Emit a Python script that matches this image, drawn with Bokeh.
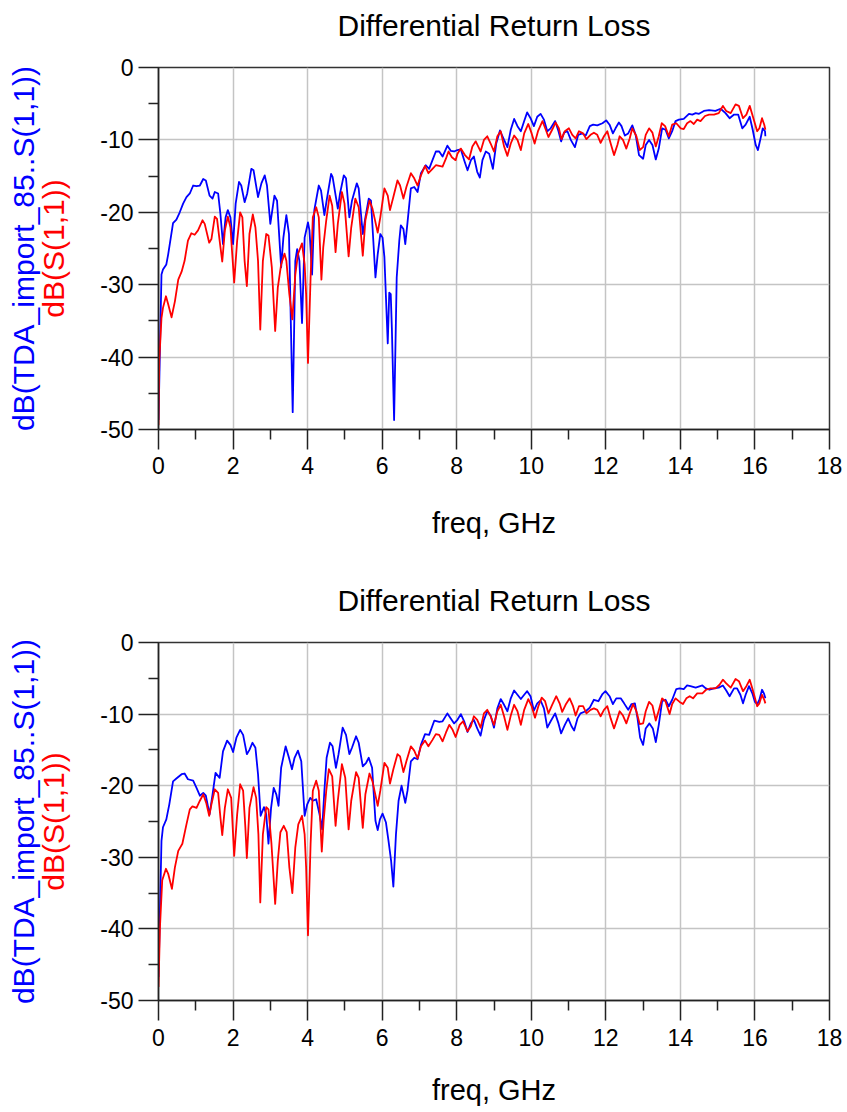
import numpy as np
from bokeh.plotting import figure
from bokeh.layouts import column
from bokeh.models import Range1d, FixedTicker, Title, LinearAxis
from bokeh.embed import file_html
from bokeh.resources import INLINE

FONT = "Liberation Sans"
TITLE = "Differential Return Loss"
XLABEL = "freq, GHz"
BLUE_LABEL = "dB(TDA_import_85..S(1,1))"
RED_LABEL = "dB(S(1,1))"

x_ticks = [0, 2, 4, 6, 8, 10, 12, 14, 16, 18]
x_minor = [1, 3, 5, 7, 9, 11, 13, 15, 17]
y_ticks = [-50, -40, -30, -20, -10, 0]
y_minor = [-45, -35, -25, -15, -5]
y_tick_labels = {v: str(v) for v in y_ticks}

# ---- top chart ----
top_blue_f = [0.00, 0.08, 0.12, 0.21, 0.26, 0.39, 0.48, 0.57, 0.66, 0.75, 0.84, 0.93, 1.02, 1.11, 1.20, 1.27,
              1.37, 1.45, 1.51, 1.60, 1.66, 1.73, 1.80, 1.86, 1.93, 2.00, 2.07, 2.16, 2.22, 2.31, 2.38, 2.49,
              2.55, 2.67, 2.76, 2.85, 2.91, 3.00, 3.11, 3.18, 3.29, 3.35, 3.43, 3.50, 3.60, 3.67, 3.72, 3.78,
              3.85, 3.92, 4.01, 4.05, 4.12, 4.18, 4.30, 4.36, 4.45, 4.51, 4.63, 4.67, 4.81, 4.87, 4.97, 5.03,
              5.12, 5.19, 5.32, 5.37, 5.48, 5.55, 5.64, 5.70, 5.82, 5.88, 5.95, 6.01, 6.06, 6.15, 6.19, 6.23,
              6.26, 6.32, 6.39, 6.46, 6.50, 6.57, 6.62, 6.68, 6.77, 6.86, 6.95, 7.04, 7.17, 7.26, 7.35, 7.44,
              7.53, 7.62, 7.75, 7.84, 7.93,
              8.02, 8.11, 8.20, 8.29, 8.38, 8.46, 8.55, 8.62, 8.69, 8.78, 8.87, 8.97, 9.06, 9.16, 9.27, 9.36,
              9.45, 9.54, 9.63, 9.72, 9.81, 9.89, 9.98, 10.07, 10.16, 10.25, 10.34, 10.43, 10.52, 10.64, 10.73,
              10.80, 10.88, 10.97, 11.06, 11.17, 11.26, 11.37, 11.46, 11.57, 11.66, 11.77, 11.91, 12.01, 12.10,
              12.19, 12.26, 12.35, 12.42, 12.51, 12.60, 12.71, 12.80, 12.89, 13.00, 13.07, 13.16, 13.25, 13.34,
              13.42, 13.51, 13.60, 13.69, 13.78, 13.87, 13.96, 14.09, 14.23, 14.32, 14.41, 14.50, 14.63, 14.77,
              14.94, 15.08, 15.21, 15.32, 15.44, 15.55, 15.66, 15.75, 15.86, 15.94, 16.02, 16.08, 16.15, 16.21,
              16.27, 16.28]
top_blue_db = [-48.7, -28.6, -27.9, -27.2, -25.8, -21.5, -21.0, -20.0, -18.8, -17.9, -17.4, -16.3, -16.4, -16.3,
               -15.4, -15.6, -17.7, -18.1, -17.2, -17.4, -20.2, -24.4, -20.7, -19.7, -20.7, -24.4, -18.8, -15.8,
               -16.3, -18.6, -17.4, -14.0, -14.2, -17.9, -16.0, -14.9, -16.3, -21.6, -17.7, -18.4, -27.6, -23.5,
               -20.4, -23.0, -47.6, -26.7, -25.1, -26.7, -35.3, -23.5, -21.4, -22.5, -28.6, -19.7, -16.3, -17.0,
               -20.4, -18.4, -14.7, -15.1, -19.5, -17.4, -14.9, -15.3, -20.7, -18.4, -16.0, -16.7, -23.0, -20.7,
               -18.1, -18.4, -29.0, -25.8, -23.0, -23.5, -26.2, -38.1, -31.1, -31.3, -36.0, -48.7, -29.0, -23.9,
               -21.8, -22.3, -24.4, -21.4, -16.7, -16.5, -17.2, -14.6, -13.5, -14.0, -12.8, -11.6, -11.6, -12.3,
               -10.8, -11.5, -11.6,
               -11.4, -11.3, -12.8, -14.2, -12.8, -12.3, -14.4, -15.2, -12.8, -11.6, -11.9, -14.0, -10.5, -8.7,
               -10.0, -11.0, -8.6, -7.1, -8.1, -8.8, -7.4, -6.2, -7.0, -8.1, -6.8, -6.4, -7.2, -8.8, -8.4, -7.4,
               -8.8, -10.2, -9.0, -8.8, -10.0, -11.0, -9.3, -9.1, -9.4, -8.1, -7.9, -8.0, -7.7, -7.3, -7.9, -9.1,
               -8.4, -7.6, -8.1, -9.4, -9.1, -8.0, -9.3, -12.1, -12.6, -10.7, -10.0, -10.7, -12.7, -11.2, -8.4,
               -8.6, -9.8, -8.8, -7.4, -7.2, -7.1, -6.4, -6.5, -6.3, -6.4, -6.0, -5.9, -6.0, -5.7, -6.3, -7.0,
               -6.5, -6.5, -8.4, -7.9, -6.8, -8.6, -10.7, -11.4, -9.8, -8.4, -8.8, -9.5]

top_red_f = [0.00, 0.02, 0.08, 0.12, 0.20, 0.26, 0.35, 0.44, 0.53, 0.62, 0.70, 0.79, 0.88, 0.97, 1.06, 1.18,
             1.24, 1.36, 1.42, 1.51, 1.57, 1.64, 1.71, 1.78, 1.86, 1.93, 2.03, 2.11, 2.19, 2.25, 2.31, 2.37,
             2.44, 2.53, 2.60, 2.67, 2.73, 2.80, 2.89, 2.95, 3.04, 3.13, 3.20, 3.29, 3.38, 3.43, 3.51, 3.59,
             3.67, 3.74, 3.85, 3.92, 3.96, 4.01, 4.08, 4.14, 4.23, 4.30, 4.37, 4.42, 4.50, 4.59, 4.66, 4.75,
             4.81, 4.92, 4.99, 5.10, 5.17, 5.28, 5.37, 5.48, 5.55, 5.66, 5.74, 5.88, 5.95, 6.06, 6.15, 6.21,
             6.30, 6.41, 6.48, 6.57, 6.65, 6.77, 6.86, 6.95, 7.04, 7.15, 7.24, 7.35, 7.44, 7.53, 7.62, 7.71,
             7.78, 7.87, 7.97,
             8.02, 8.11, 8.22, 8.33, 8.42, 8.51, 8.64, 8.73, 8.82, 8.91, 9.00, 9.09, 9.18, 9.27, 9.36, 9.45,
             9.54, 9.63, 9.72, 9.81, 9.92, 10.01, 10.09, 10.18, 10.30, 10.39, 10.46, 10.56, 10.65, 10.74, 10.81,
             10.90, 11.01, 11.10, 11.19, 11.28, 11.39, 11.48, 11.59, 11.68, 11.77, 11.86, 11.95, 12.04, 12.13,
             12.22, 12.31, 12.37, 12.46, 12.55, 12.64, 12.71, 12.82, 12.91, 13.00, 13.07, 13.16, 13.25, 13.34,
             13.42, 13.50, 13.59, 13.69, 13.78, 13.89, 14.01, 14.09, 14.18, 14.27, 14.36, 14.45, 14.54, 14.66,
             14.77, 14.90, 15.03, 15.14, 15.23, 15.35, 15.48, 15.57, 15.68, 15.77, 15.86, 15.94, 16.06, 16.12,
             16.19, 16.25, 16.28]
top_red_db = [-49.4, -40.6, -34.6, -33.2, -31.6, -32.7, -34.5, -32.3, -29.3, -28.2, -26.7, -23.9, -22.9, -23.1,
              -22.5, -21.1, -21.6, -24.2, -23.7, -20.6, -20.9, -23.9, -26.8, -22.5, -20.6, -22.1, -29.7, -23.9,
              -20.0, -20.7, -26.7, -30.2, -23.0, -20.3, -22.1, -26.7, -36.2, -26.7, -23.0, -23.2, -27.6, -36.4,
              -30.4, -27.2, -25.7, -26.7, -31.3, -34.8, -28.6, -25.8, -24.3, -27.2, -31.3, -40.8, -29.0, -20.7,
              -19.3, -20.7, -29.3, -24.8, -21.1, -17.7, -19.1, -25.5, -21.6, -17.2, -18.8, -26.1, -22.1, -18.1,
              -19.3, -26.0, -21.1, -18.4, -19.5, -22.8, -20.7, -16.7, -17.7, -19.7, -17.9, -15.6, -16.3, -18.1,
              -16.5, -14.6, -15.3, -16.3, -14.9, -13.6, -14.6, -14.0, -13.5, -13.6, -13.7, -12.6, -11.6, -12.4,
              -12.8,
              -11.9, -11.2, -12.1, -12.7, -10.9, -10.2, -11.6, -10.0, -9.5, -10.5, -11.6, -9.5, -8.8, -10.9,
              -12.2, -10.5, -9.4, -10.0, -11.4, -9.1, -7.8, -9.1, -10.5, -8.8, -7.4, -8.6, -9.6, -8.6, -7.6,
              -8.4, -9.9, -8.8, -8.4, -9.3, -9.8, -8.8, -9.1, -9.9, -9.3, -9.0, -9.3, -10.4, -9.5, -8.8, -10.5,
              -12.1, -10.7, -9.5, -10.0, -11.2, -9.8, -8.4, -9.5, -11.4, -11.0, -9.3, -8.4, -9.0, -10.9, -9.5,
              -7.7, -8.1, -9.5, -7.9, -7.7, -8.4, -8.5, -7.7, -7.4, -7.8, -7.2, -7.4, -6.7, -6.5, -6.5, -6.3,
              -5.3, -6.0, -6.3, -5.1, -5.3, -7.0, -6.5, -5.3, -6.7, -8.8, -8.4, -7.0, -7.9, -8.6]

# ---- bottom chart ----
bot_blue_f = [0.00, 0.08, 0.12, 0.21, 0.29, 0.39, 0.48, 0.62, 0.70, 0.79, 0.93, 1.02, 1.11, 1.20, 1.27, 1.37,
              1.45, 1.53, 1.64, 1.73, 1.84, 1.93, 2.00, 2.09, 2.19, 2.27, 2.37, 2.44, 2.52, 2.60, 2.67, 2.74,
              2.83, 2.89, 2.95, 3.02, 3.09, 3.16, 3.22, 3.29, 3.41, 3.50, 3.58, 3.65, 3.74, 3.83, 3.92, 3.99,
              4.07, 4.14, 4.23, 4.32, 4.39, 4.45, 4.51, 4.60, 4.67, 4.76, 4.83, 4.94, 5.03, 5.12, 5.19, 5.30,
              5.37, 5.48, 5.57, 5.64, 5.73, 5.82, 5.88, 5.94, 6.01, 6.10, 6.17, 6.24, 6.30, 6.37, 6.44, 6.52,
              6.62, 6.68, 6.77, 6.86, 6.95, 7.04, 7.15, 7.26, 7.40, 7.53, 7.62, 7.75, 7.84, 7.93,
              8.02, 8.11, 8.20, 8.29, 8.38, 8.46, 8.55, 8.64, 8.73, 8.82, 8.91, 9.00, 9.09, 9.18, 9.27, 9.36,
              9.45, 9.54, 9.63, 9.72, 9.81, 9.89, 9.98, 10.07, 10.16, 10.25, 10.34, 10.43, 10.52, 10.64, 10.73,
              10.80, 10.90, 10.99, 11.08, 11.15, 11.24, 11.32, 11.46, 11.57, 11.68, 11.80, 11.91, 11.99, 12.10,
              12.19, 12.28, 12.40, 12.49, 12.60, 12.69, 12.78, 12.85, 12.92, 13.00, 13.07, 13.17, 13.26, 13.34,
              13.42, 13.51, 13.60, 13.69, 13.78, 13.89, 13.98, 14.09, 14.18, 14.27, 14.41, 14.59, 14.68, 14.78,
              14.90, 15.03, 15.14, 15.23, 15.32, 15.44, 15.52, 15.61, 15.68, 15.75, 15.84, 15.93, 16.00, 16.06,
              16.12, 16.19, 16.24, 16.28]
bot_blue_db = [-46.7, -27.7, -25.8, -24.7, -22.6, -19.4, -19.0, -18.4, -18.3, -19.1, -19.3, -20.3, -21.4, -21.0,
               -21.4, -24.0, -21.2, -18.2, -18.9, -15.2, -13.7, -14.3, -15.3, -13.3, -12.2, -12.9, -15.6, -15.0,
               -14.0, -14.7, -18.4, -24.2, -23.0, -24.0, -28.1, -23.1, -20.3, -21.2, -22.8, -17.5, -14.5, -16.1,
               -17.7, -16.1, -15.1, -16.6, -24.2, -22.6, -21.7, -22.1, -21.9, -24.0, -26.1, -20.7, -16.1, -14.0,
               -14.5, -17.5, -15.6, -11.9, -12.9, -15.6, -14.7, -13.1, -14.0, -17.3, -16.8, -16.1, -17.5, -24.9,
               -26.2, -24.7, -23.9, -25.1, -27.7, -30.5, -34.1, -26.8, -22.1, -20.0, -22.4, -20.7, -16.6, -16.1,
               -16.3, -14.3, -12.8, -12.9, -10.9, -11.1, -11.0, -9.9, -10.6, -11.3,
               -10.8, -10.0, -11.0, -12.5, -11.3, -10.8, -12.0, -13.0, -10.8, -9.6, -10.2, -11.9, -9.2, -7.9,
               -8.7, -9.6, -7.8, -6.7, -7.3, -7.9, -7.3, -6.8, -7.5, -9.5, -8.5, -8.1, -9.2, -11.9, -11.0, -9.9,
               -11.3, -12.7, -11.5, -10.6, -11.7, -12.3, -10.6, -9.9, -9.6, -9.1, -8.0, -8.2, -7.2, -6.8, -7.5,
               -8.6, -7.8, -7.8, -8.5, -9.4, -8.6, -8.5, -10.6, -13.3, -14.3, -12.0, -11.3, -12.0, -13.9, -11.5,
               -8.2, -8.0, -8.9, -8.0, -6.5, -6.4, -6.5, -6.0, -6.1, -6.3, -6.0, -6.4, -6.6, -6.4, -6.3, -6.0,
               -6.7, -7.5, -6.4, -6.4, -7.3, -8.5, -7.3, -6.1, -7.1, -8.3, -8.6, -8.0, -6.6, -7.1, -7.8]

bot_red_f = [0.00, 0.04, 0.10, 0.20, 0.26, 0.36, 0.44, 0.53, 0.64, 0.75, 0.84, 0.91, 1.02, 1.11, 1.20, 1.28,
             1.36, 1.42, 1.51, 1.60, 1.66, 1.71, 1.78, 1.86, 1.95, 2.03, 2.11, 2.19, 2.27, 2.33, 2.37, 2.44,
             2.55, 2.62, 2.68, 2.73, 2.80, 2.89, 2.95, 3.03, 3.13, 3.20, 3.27, 3.36, 3.44, 3.51, 3.59, 3.67,
             3.75, 3.85, 3.92, 3.96, 4.01, 4.08, 4.14, 4.23, 4.30, 4.38, 4.43, 4.50, 4.57, 4.66, 4.75, 4.81,
             4.92, 5.01, 5.10, 5.17, 5.30, 5.37, 5.48, 5.55, 5.66, 5.74, 5.88, 5.95, 6.06, 6.15, 6.21, 6.30,
             6.41, 6.48, 6.57, 6.65, 6.77, 6.86, 6.95, 7.04, 7.15, 7.24, 7.35, 7.44, 7.53, 7.62, 7.71, 7.80,
             7.89, 7.97,
             8.08, 8.17, 8.29, 8.38, 8.46, 8.55, 8.64, 8.73, 8.82, 8.91, 9.00, 9.09, 9.18, 9.27, 9.36, 9.45,
             9.54, 9.63, 9.72, 9.81, 9.92, 10.01, 10.10, 10.19, 10.28, 10.37, 10.46, 10.56, 10.67, 10.76, 10.83,
             10.92, 11.03, 11.12, 11.19, 11.28, 11.39, 11.48, 11.59, 11.68, 11.77, 11.86, 11.95, 12.04, 12.13,
             12.22, 12.31, 12.37, 12.46, 12.55, 12.64, 12.73, 12.82, 12.91, 13.00, 13.07, 13.16, 13.25, 13.34,
             13.42, 13.51, 13.60, 13.71, 13.78, 13.87, 13.98, 14.07, 14.16, 14.25, 14.34, 14.45, 14.59, 14.69,
             14.81, 14.94, 15.05, 15.14, 15.23, 15.35, 15.48, 15.57, 15.68, 15.77, 15.86, 15.94, 16.06, 16.12,
             16.19, 16.25, 16.28]
bot_red_db = [-48.1, -39.7, -33.2, -31.6, -32.3, -34.4, -31.4, -29.1, -28.1, -25.4, -23.3, -22.9, -23.1, -22.1,
              -21.2, -22.4, -24.2, -22.6, -20.5, -21.0, -24.4, -26.9, -23.1, -20.5, -21.7, -29.8, -24.0, -19.8,
              -20.7, -25.8, -30.1, -23.1, -20.2, -21.7, -26.8, -36.3, -26.8, -23.0, -23.3, -28.1, -36.5, -30.5,
              -26.5, -25.6, -26.5, -31.4, -35.0, -28.6, -25.4, -24.2, -26.8, -31.4, -40.9, -28.1, -20.7, -19.3,
              -20.7, -29.2, -24.9, -20.7, -17.7, -18.7, -25.6, -22.1, -17.0, -18.9, -26.1, -22.1, -18.1, -18.9,
              -25.9, -21.2, -18.3, -19.4, -22.8, -20.7, -16.8, -17.5, -19.7, -17.7, -15.6, -15.9, -18.1, -16.6,
              -14.5, -15.1, -16.2, -14.5, -13.7, -14.5, -13.6, -12.8, -12.9, -13.8, -12.6, -11.5, -12.2, -13.2,
              -11.5, -11.0, -12.4, -11.7, -10.3, -10.8, -11.9, -9.9, -9.4, -10.3, -11.5, -9.6, -8.7, -10.3,
              -12.2, -10.2, -8.7, -9.6, -11.5, -9.4, -7.9, -8.9, -10.5, -8.9, -7.7, -8.2, -9.9, -8.7, -7.5,
              -8.5, -9.7, -8.7, -7.8, -8.9, -10.2, -8.9, -8.9, -9.9, -9.4, -9.2, -9.4, -10.3, -9.4, -8.9,
              -10.6, -12.0, -10.6, -9.6, -10.2, -11.3, -9.9, -8.6, -9.6, -11.4, -11.3, -9.6, -8.3, -8.8, -10.9,
              -9.5, -7.8, -8.2, -10.0, -8.6, -7.8, -8.3, -8.6, -7.8, -7.5, -7.8, -7.1, -7.1, -6.6, -6.4, -6.4,
              -5.9, -5.2, -5.7, -6.3, -5.1, -5.4, -6.8, -6.1, -5.2, -6.6, -8.9, -8.5, -7.3, -8.0, -8.5]


def make_fig(height, border_top, border_bottom, blue_f, blue_db, red_f, red_db,
             tick_standoff, label_standoff):
    p = figure(width=847, height=height, x_range=Range1d(0, 18), y_range=Range1d(-50, 0),
               output_backend="svg", toolbar_location=None, title=None,
               min_border_left=158, min_border_right=18, min_border_top=border_top,
               min_border_bottom=border_bottom)

    p.background_fill_color = "white"
    p.border_fill_color = "white"
    p.outline_line_color = "#333333"
    p.outline_line_width = 1.5

    p.xaxis.ticker = FixedTicker(ticks=x_ticks, minor_ticks=x_minor)
    p.yaxis.ticker = FixedTicker(ticks=y_ticks, minor_ticks=y_minor)
    p.yaxis.major_label_overrides = y_tick_labels
    for ax in (p.xaxis[0], p.yaxis[0]):
        ax.axis_line_color = "#222222"
        ax.axis_line_width = 1.5
        ax.major_tick_line_color = "#222222"
        ax.major_tick_line_width = 1.5
        ax.minor_tick_line_color = "#222222"
        ax.minor_tick_line_width = 1.5
        ax.major_tick_in = 0
        ax.major_tick_out = 20
        ax.minor_tick_in = 0
        ax.minor_tick_out = 10
        ax.major_label_text_font = FONT
        ax.major_label_text_font_size = "23px"
        ax.major_label_text_color = "black"
    p.yaxis.major_label_standoff = 5
    p.xaxis.major_label_standoff = tick_standoff
    p.xaxis.axis_label = XLABEL
    p.xaxis.axis_label_text_font = FONT
    p.xaxis.axis_label_text_font_size = "29px"
    p.xaxis.axis_label_text_font_style = "normal"
    p.xaxis.axis_label_text_color = "black"
    p.xaxis.axis_label_standoff = label_standoff

    # red y label = the axis label, blue one = a title outside it
    p.yaxis.axis_label = RED_LABEL
    p.yaxis.axis_label_text_font = FONT
    p.yaxis.axis_label_text_font_size = "30px"
    p.yaxis.axis_label_text_font_style = "normal"
    p.yaxis.axis_label_text_color = "#ff0000"
    p.yaxis.axis_label_standoff = 27
    p.add_layout(Title(text=BLUE_LABEL, align="center", text_color="#0000ff", text_font=FONT,
                       text_font_size="30px", text_font_style="normal", standoff=-11), "left")

    # invisible spacer axis between the frame and the title
    spacer = LinearAxis(ticker=FixedTicker(ticks=[9]), major_label_overrides={9: ""},
                        axis_line_color=None, major_tick_line_color=None, minor_tick_line_color=None,
                        major_tick_out=26, major_tick_in=0, minor_tick_out=0, minor_tick_in=0,
                        major_label_standoff=0, major_label_text_font_size="1px",
                        major_label_text_color=None)
    p.add_layout(spacer, "above")
    p.add_layout(Title(text=TITLE, align="center", text_color="black", text_font=FONT,
                       text_font_size="30px", text_font_style="normal", standoff=0), "above")

    p.xgrid.ticker = FixedTicker(ticks=x_ticks)
    p.ygrid.ticker = FixedTicker(ticks=y_ticks)
    p.grid.grid_line_color = "#c4c4c4"
    p.grid.grid_line_width = 1.5

    p.line(blue_f, blue_db, line_color="#0000ff", line_width=1.8, line_join="round")
    p.line(red_f, red_db, line_color="#ff0000", line_width=1.8, line_join="round")
    return p


p1 = make_fig(560, 67, 131, top_blue_f, top_blue_db, top_red_f, top_red_db, 7, 30)
p2 = make_fig(552, 82, 112, bot_blue_f, bot_blue_db, bot_red_f, bot_red_db, 8, 25)

layout = column(p1, p2, spacing=0)
open("out.html", "w").write(file_html(layout, INLINE))
